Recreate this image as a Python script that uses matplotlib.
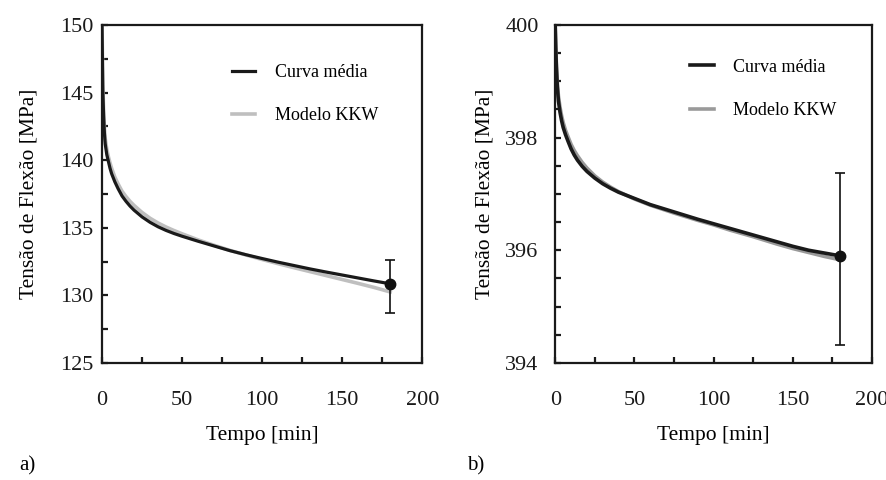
import numpy as np
import matplotlib.pyplot as plt
from matplotlib.ticker import MultipleLocator

plt.rcParams.update({
    'font.family': 'Liberation Serif',
    'font.size': 14,
})

# painel a)
t_a = [0, 0.25, 0.5, 1, 1.5, 2, 3, 4, 5, 6, 8, 10, 12.5, 15, 17.5, 20, 25, 30, 35, 40, 45, 50,
       60, 70, 80, 90, 100, 110, 120, 130, 140, 150, 160, 170, 180]
media_a = [150, 147.5, 145.2, 143.3, 142.0, 141.2, 140.4, 139.9, 139.4, 139.0, 138.4, 137.9,
           137.35, 136.95, 136.6, 136.3, 135.8, 135.4, 135.07, 134.8, 134.57, 134.37,
           134.0, 133.65, 133.3, 133.0, 132.72, 132.45, 132.2, 131.95, 131.72, 131.5,
           131.28, 131.06, 130.85]
kkw_a = [150, 147.8, 145.6, 143.7, 142.4, 141.6, 140.8, 140.25, 139.8, 139.4, 138.75, 138.25,
         137.7, 137.3, 136.95, 136.65, 136.13, 135.7, 135.35, 135.05, 134.79, 134.55,
         134.1, 133.7, 133.32, 132.98, 132.65, 132.34, 132.04, 131.75, 131.46, 131.17,
         130.88, 130.58, 130.25]
ponto_a = 130.8
erro_a = [[2.1], [1.8]]

# painel b)
t_b = [0, 0.3, 0.7, 1.3, 2, 3, 4, 5, 6.5, 8, 10, 12, 14, 17, 20, 25, 30, 35, 40, 50,
       60, 75, 90, 100, 110, 125, 140, 150, 160, 170, 180]
media_b = [399.95, 399.6, 399.25, 398.9, 398.65, 398.45, 398.3, 398.18, 398.05, 397.94, 397.8,
           397.69, 397.6, 397.49, 397.4, 397.28, 397.18, 397.1, 397.03, 396.92,
           396.81, 396.68, 396.55, 396.47, 396.39, 396.27, 396.15, 396.07, 396.0, 395.95, 395.9]
kkw_b = [399.95, 399.65, 399.32, 398.98, 398.74, 398.54, 398.39, 398.27, 398.13, 398.02, 397.88,
         397.77, 397.68, 397.56, 397.46, 397.32, 397.21, 397.12, 397.04, 396.91,
         396.8, 396.66, 396.53, 396.45, 396.36, 396.24, 396.11, 396.03, 395.96, 395.89, 395.83]
ponto_b = 395.9
erro_b = [[1.58], [1.47]]

fig = plt.figure(figsize=(8.87, 4.8), dpi=100)
ax_a = fig.add_axes([0.115, 0.244, 0.361, 0.704])
ax_b = fig.add_axes([0.626, 0.244, 0.357, 0.704])


def estilo(ax, ylim, ystep, yminor, ypad, ylabpad):
    ax.set_xlim(0, 200)
    ax.set_ylim(*ylim)
    ax.xaxis.set_major_locator(MultipleLocator(50))
    ax.xaxis.set_minor_locator(MultipleLocator(25))
    ax.yaxis.set_major_locator(MultipleLocator(ystep))
    ax.yaxis.set_minor_locator(MultipleLocator(yminor))
    ax.tick_params(which='both', direction='in', top=False, right=False,
                   width=1.6, length=4, labelsize=16, colors='#1a1a1a')
    ax.tick_params(axis='x', pad=20)
    ax.tick_params(axis='y', pad=ypad)
    for s in ax.spines.values():
        s.set_linewidth(1.6)
        s.set_color('#1a1a1a')
    ax.set_xlabel('Tempo [min]', fontsize=15.5, labelpad=12)
    ax.set_ylabel('Tensão de Flexão [MPa]', fontsize=15.5, labelpad=ylabpad)


# a)
ax_a.plot(t_a, media_a, color='#1a1a1a', lw=2.3, label='Curva média', zorder=3)
ax_a.plot(t_a, kkw_a, color='#bfbfbf', lw=2.6, label='Modelo KKW', zorder=2)
ax_a.errorbar([180], [ponto_a], yerr=erro_a, fmt='o', color='#111111', ms=7.5,
              capsize=3.8, elinewidth=1.2, capthick=1.2, zorder=4)
estilo(ax_a, (125, 150), 5, 2.5, 6, 16)
ax_a.legend(loc='upper left', bbox_to_anchor=(0.406, 0.885), frameon=False,
            borderpad=0, borderaxespad=0, fontsize=13, handlelength=1.3,
            handletextpad=1.1, labelspacing=1.45)

# b)
ax_b.plot(t_b, media_b, color='#1a1a1a', lw=2.6, label='Curva média', zorder=3)
ax_b.plot(t_b, kkw_b, color='#9a9a9a', lw=2.6, label='Modelo KKW', zorder=2)
ax_b.errorbar([180], [ponto_b], yerr=erro_b, fmt='o', color='#111111', ms=7.5,
              capsize=3.8, elinewidth=1.2, capthick=1.2, zorder=4)
estilo(ax_b, (394, 400), 2, 0.5, 12, 8)
ax_b.legend(loc='upper left', bbox_to_anchor=(0.426, 0.9), frameon=False,
            borderpad=0, borderaxespad=0, fontsize=13, handlelength=1.3,
            handletextpad=1.1, labelspacing=1.45)

fig.text(0.022, 0.02, 'a)', fontsize=15)
fig.text(0.527, 0.02, 'b)', fontsize=15)

fig.savefig('out.png', dpi=100)
